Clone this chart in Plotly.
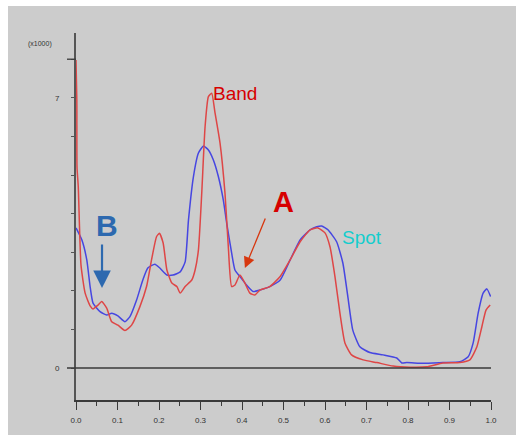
import plotly.graph_objects as go

# Band (red) trace
band_x = [0.000, 0.002, 0.0024, 0.0055, 0.012, 0.022, 0.034, 0.041, 0.053, 0.062, 0.074, 0.086,
          0.101, 0.118, 0.134, 0.154, 0.170, 0.182, 0.194, 0.201, 0.210, 0.219, 0.231, 0.243,
          0.251, 0.263, 0.279, 0.287, 0.295, 0.303, 0.311, 0.319, 0.327, 0.335, 0.347, 0.359,
          0.367, 0.375, 0.383, 0.395, 0.407, 0.419, 0.431, 0.443, 0.467, 0.492, 0.516, 0.540,
          0.564, 0.583, 0.600, 0.612, 0.624, 0.636, 0.648, 0.664, 0.692, 0.725, 0.764, 0.805,
          0.845, 0.884, 0.925, 0.949, 0.966, 0.978, 0.988, 0.998]
band_y = [7.98, 6.94, 5.21, 4.69, 2.67, 1.94, 1.61, 1.53, 1.63, 1.72, 1.55, 1.20,
          1.11, 0.97, 1.11, 1.59, 2.11, 2.80, 3.40, 3.49, 3.24, 2.54, 2.20, 2.11,
          1.94, 2.11, 2.28, 2.54, 3.06, 4.53, 6.25, 7.03, 7.12, 6.61, 5.83, 4.53,
          3.14, 2.11, 2.15, 2.41, 2.20, 1.94, 1.89, 2.02, 2.11, 2.37, 2.80, 3.27,
          3.58, 3.63, 3.50, 3.14, 2.37, 1.42, 0.65, 0.34, 0.21, 0.14, 0.05, 0.02,
          0.03, 0.13, 0.14, 0.21, 0.55, 1.07, 1.50, 1.63]

# Spot (blue) trace
spot_x = [0.000, 0.014, 0.026, 0.034, 0.041, 0.058, 0.074, 0.086, 0.101, 0.118, 0.130, 0.146,
          0.161, 0.173, 0.190, 0.202, 0.219, 0.234, 0.251, 0.263, 0.271, 0.283, 0.295, 0.307,
          0.319, 0.331, 0.343, 0.355, 0.363, 0.375, 0.383, 0.395, 0.411, 0.427, 0.443, 0.467,
          0.492, 0.516, 0.540, 0.564, 0.580, 0.592, 0.607, 0.628, 0.643, 0.655, 0.667, 0.684,
          0.708, 0.740, 0.773, 0.785, 0.797, 0.836, 0.884, 0.925, 0.945, 0.957, 0.969, 0.981,
          0.990, 0.999]
spot_y = [3.63, 3.32, 2.80, 2.11, 1.68, 1.46, 1.37, 1.42, 1.35, 1.20, 1.33, 1.76,
          2.28, 2.59, 2.69, 2.59, 2.41, 2.41, 2.49, 2.75, 3.83, 4.96, 5.57, 5.75,
          5.65, 5.39, 4.96, 4.35, 3.76, 2.98, 2.54, 2.37, 2.15, 1.98, 2.02, 2.11,
          2.28, 2.80, 3.32, 3.58, 3.66, 3.68, 3.58, 3.27, 2.72, 1.85, 0.98, 0.55,
          0.40, 0.34, 0.26, 0.13, 0.14, 0.12, 0.14, 0.16, 0.29, 0.65, 1.42, 1.94,
          2.05, 1.85]

x_ticks = [round(i * 0.1, 1) for i in range(11)]
x_minor = [round(0.05 + i * 0.1, 2) for i in range(10)]
y_ticks = list(range(0, 9))
y_ticktext = ["0", "", "", "", "", "", "", "7", ""]

RED = "rgb(222,70,70)"
BLUE = "rgb(70,70,225)"
AXIS = "#3a3a3a"
BG = "#cccccc"

fig = go.Figure()
fig.add_trace(go.Scatter(x=spot_x, y=spot_y, mode="lines", name="Spot",
                         line=dict(color=BLUE, width=1.5, shape="spline", smoothing=0.5)))
fig.add_trace(go.Scatter(x=band_x, y=band_y, mode="lines", name="Band",
                         line=dict(color=RED, width=1.5, shape="spline", smoothing=0.5)))

ann = [
    dict(text="(x1000)", xref="paper", yref="paper", x=-36 / 415, y=(400 - 44) / 367,
         showarrow=False, font=dict(size=7, color="#333"), xanchor="center", yanchor="middle"),
    dict(text="Band", x=0.383, y=7.1, showarrow=False, xanchor="center", yanchor="middle",
         font=dict(size=19, color="rgb(215,0,0)", family="Liberation Sans, Arial")),
    dict(text="<b>A</b>", x=0.499, y=4.3, showarrow=False, xanchor="center", yanchor="middle",
         font=dict(size=29, color="rgb(215,0,0)", family="Liberation Sans, Arial")),
    dict(text="<b>B</b>", x=0.075, y=3.7, showarrow=False, xanchor="center", yanchor="middle",
         font=dict(size=30, color="rgb(45,105,175)", family="Liberation Sans, Arial")),
    dict(text="Spot", x=0.689, y=3.37, showarrow=False, xanchor="center", yanchor="middle",
         font=dict(size=19, color="rgb(20,205,205)", family="Liberation Sans, Arial")),
    # arrows
    dict(text="", x=0.407, y=2.59, ax=21, ay=-51, showarrow=True, arrowhead=2,
         arrowsize=1.7, arrowwidth=1.3, arrowcolor="rgb(215,55,15)"),
    dict(text="", x=0.0627, y=2.07, ax=0, ay=-45, showarrow=True, arrowhead=2,
         arrowsize=1.6, arrowwidth=2.2, arrowcolor="rgb(45,105,175)"),
]

shapes = [
    # zero reference line extending left of the axis
    dict(type="line", xref="paper", yref="y", x0=-9 / 415, x1=1, y0=0, y1=0,
         line=dict(color=AXIS, width=1.3)),
    # long top tick
    dict(type="line", xref="paper", yref="y", x0=-9 / 415, x1=0, y0=8, y1=8,
         line=dict(color=AXIS, width=1.3)),
    # white border strips
    dict(type="rect", xref="paper", yref="paper", x0=-76 / 415, x1=-68 / 415,
         y0=-35 / 367, y1=400 / 367, fillcolor="white", line=dict(width=0)),
    dict(type="rect", xref="paper", yref="paper", x0=-76 / 415, x1=440 / 415,
         y0=394 / 367, y1=400 / 367, fillcolor="white", line=dict(width=0)),
]

fig.update_layout(
    width=516, height=435,
    margin=dict(l=76, r=25, t=33, b=35, autoexpand=False),
    paper_bgcolor=BG, plot_bgcolor=BG,
    showlegend=False,
    font=dict(family="Liberation Sans, Arial", color="#333"),
    annotations=ann, shapes=shapes,
    xaxis=dict(range=[0, 1], tickvals=x_ticks, tickformat=".1f", ticks="outside",
               ticklen=8, tickwidth=1.2, tickcolor=AXIS, showline=True, linecolor=AXIS,
               linewidth=1.5, showgrid=False, zeroline=False, tickfont=dict(size=8, color="#333"),
               ticklabelstandoff=4, automargin=False,
               minor=dict(tickvals=x_minor, ticks="outside", ticklen=4, tickcolor=AXIS),
               fixedrange=True),
    yaxis=dict(range=[-0.829, 8.679], tickvals=y_ticks, ticktext=y_ticktext, ticks="outside",
               ticklen=3, tickwidth=1.2, tickcolor="#555", showline=True, linecolor="#555",
               linewidth=2, showgrid=False, zeroline=False, tickfont=dict(size=8, color="#333"),
               ticklabelstandoff=10, automargin=False,
               fixedrange=True),
)

fig.write_html("out.html")
